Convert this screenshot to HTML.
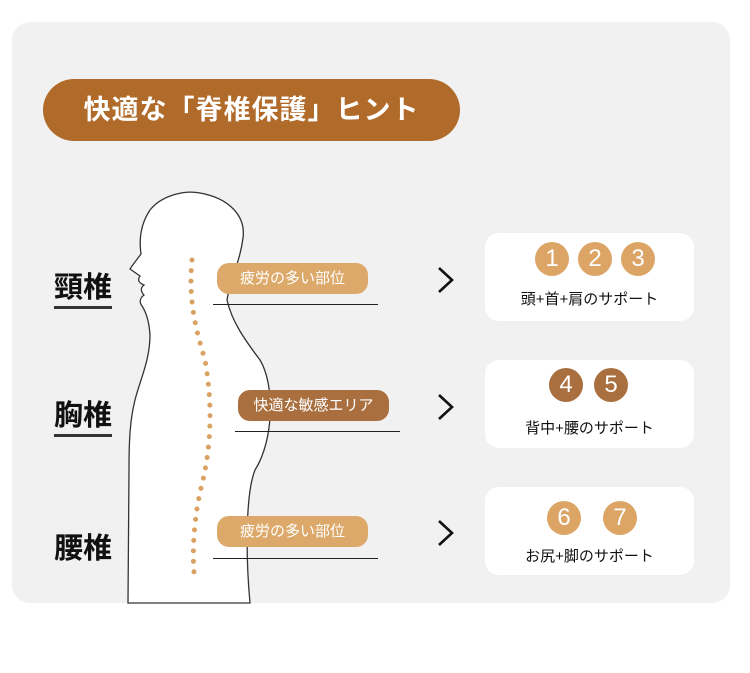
<!DOCTYPE html>
<html><head><meta charset="utf-8"><style>
body{margin:0;width:750px;height:673px;background:#fff;position:relative;overflow:hidden;font-family:"Liberation Sans","Noto Sans CJK JP",sans-serif}
.card{position:absolute;left:12px;top:22px;width:718px;height:581px;background:#f1f1f1;border-radius:18px}
.abs{position:absolute}
.hdr{left:43px;top:79px;width:417px;height:62px;border-radius:31px;background:#b06a2a;color:#fff;font-size:27px;font-weight:bold;text-align:center;line-height:62px;letter-spacing:1px}
.pill{height:31px;width:151px;border-radius:12px;color:#fff;font-size:15px;text-align:center;line-height:31px}
.ln{height:1px;background:#222}
.lbl{font-size:29px;font-weight:bold;color:#111;left:54px}
.box{left:485px;width:209px;height:88px;background:#fff;border-radius:14px}
.c{width:34px;height:34px;border-radius:50%;color:#fff;font-size:24px;text-align:center;line-height:34px}
.t{left:485px;width:209px;text-align:center;font-size:15px;color:#111}
</style></head><body>
<div class="card"></div>
<div class="abs hdr">快適な「脊椎保護」ヒント</div>
<svg class="abs" style="left:0;top:0" width="750" height="673">
<path d="M128 603 L129 470 C129 440 130 420 135 400 C140 380 150 360 150 335 C149 320 146 312 142 306 C139 302 140 298 144 295 C141 292 140 288 144 285 C139 283 137 280 140 276 L130 269 C134 263 138 258 141 254 C139 240 140 225 150 210 C162 195 185 190 200 193 C228 198 246 215 243 238 C240 262 230 280 227 300 C232 322 245 340 260 360 C275 385 274 440 255 470 C245 495 246 560 250 603 Z" fill="#fff" stroke="#333" stroke-width="1.3"/>
<path d="M192 260 C188 300 196 330 205 360 C212 400 212 440 203 480 C195 510 192 545 194 572" fill="none" stroke="#d9a262" stroke-width="5" stroke-linecap="round" stroke-dasharray="0 10.5"/>
<g fill="none" stroke="#111" stroke-width="2.6">
<polyline points="439,268 452,280 439,292"/>
<polyline points="439,395 452,407 439,419"/>
<polyline points="439,521 452,533 439,545"/>
</g>
</svg>
<div class="abs lbl" style="top:264px;border-bottom:3px solid #333">頸椎</div>
<div class="abs lbl" style="top:392px;border-bottom:3px solid #333">胸椎</div>
<div class="abs lbl" style="top:525px">腰椎</div>
<div class="abs pill" style="left:217px;top:263px;background:#dca96a">疲労の多い部位</div>
<div class="abs ln" style="left:213px;top:304px;width:165px"></div>
<div class="abs pill" style="left:238px;top:390px;background:#a96f3f">快適な敏感エリア</div>
<div class="abs ln" style="left:235px;top:431px;width:165px"></div>
<div class="abs pill" style="left:217px;top:516px;background:#dca96a">疲労の多い部位</div>
<div class="abs ln" style="left:213px;top:558px;width:165px"></div>
<div class="abs box" style="top:233px"></div>
<div class="abs box" style="top:360px"></div>
<div class="abs box" style="top:487px"></div>
<div class="abs c" style="left:535px;top:242px;background:#dca566">1</div>
<div class="abs c" style="left:578px;top:242px;background:#dca566">2</div>
<div class="abs c" style="left:621px;top:242px;background:#dca566">3</div>
<div class="abs t" style="top:288px">頭+首+肩のサポート</div>
<div class="abs c" style="left:549px;top:368px;background:#a96f3f">4</div>
<div class="abs c" style="left:594px;top:368px;background:#a96f3f">5</div>
<div class="abs t" style="top:417px">背中+腰のサポート</div>
<div class="abs c" style="left:547px;top:501px;background:#dca566">6</div>
<div class="abs c" style="left:603px;top:501px;background:#dca566">7</div>
<div class="abs t" style="top:545px">お尻+脚のサポート</div>
</body></html>
